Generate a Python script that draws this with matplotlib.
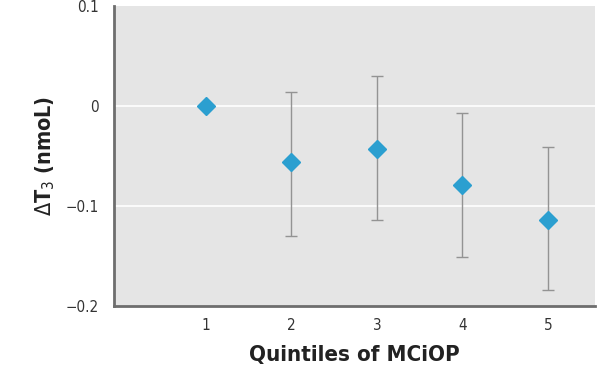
import matplotlib
matplotlib.use("Agg")
import matplotlib.pyplot as plt

quintiles = [1, 2, 3, 4, 5]
delta_t3 = [0.0, -0.056, -0.043, -0.079, -0.114]
ci_low = [0.0, -0.130, -0.114, -0.151, -0.184]
ci_high = [0.0, 0.014, 0.030, -0.007, -0.041]
y_ticks = [-0.2, -0.1, 0, 0.1]
y_tick_labels = ["\u22120.2", "\u22120.1", "0", "0.1"]

# condensed face to get close to the narrow font of the original
plt.rcParams['font.family'] = ['DejaVu Sans']
plt.rcParams['font.stretch'] = 'condensed'

fig = plt.figure(figsize=(5.97, 3.82), dpi=100)
ax = fig.add_axes([0.191, 0.199, 0.806, 0.785])
ax.set_facecolor('#e5e5e5')

for y in [0, -0.1]:
    ax.axhline(y, color='white', lw=1.2, zorder=1)

yerr = [[d - lo for d, lo in zip(delta_t3, ci_low)],
        [hi - d for d, hi in zip(delta_t3, ci_high)]]
ax.errorbar(quintiles, delta_t3, yerr=yerr, fmt='none', ecolor='#939393',
            elinewidth=1.0, capsize=4, capthick=1.0, zorder=2)
ax.plot(quintiles, delta_t3, 'D', color='#2b9fd0', markersize=9,
        markeredgecolor='#2b9fd0', zorder=3)

ax.set_xlim(-0.07, 5.55)
ax.set_ylim(-0.2, 0.1)
ax.set_xticks(quintiles)
ax.set_yticks(y_ticks)
ax.set_yticklabels(y_tick_labels)
ax.tick_params(length=0, labelsize=11, colors='#333333', pad=11)
ax.tick_params(axis='x', pad=9)

for s in ['top', 'right']:
    ax.spines[s].set_visible(False)
for s in ['left', 'bottom']:
    ax.spines[s].set_color('#6e6e6e')
    ax.spines[s].set_linewidth(2)

ax.set_xlabel('Quintiles of MCiOP', fontsize=16, fontweight='bold', labelpad=8, color='#222222')
ax.set_ylabel(r'$\Delta$T$_3$ (nmoL)', fontsize=15.5, fontweight='bold', labelpad=6, color='#222222')

fig.savefig('out.png', dpi=100)
